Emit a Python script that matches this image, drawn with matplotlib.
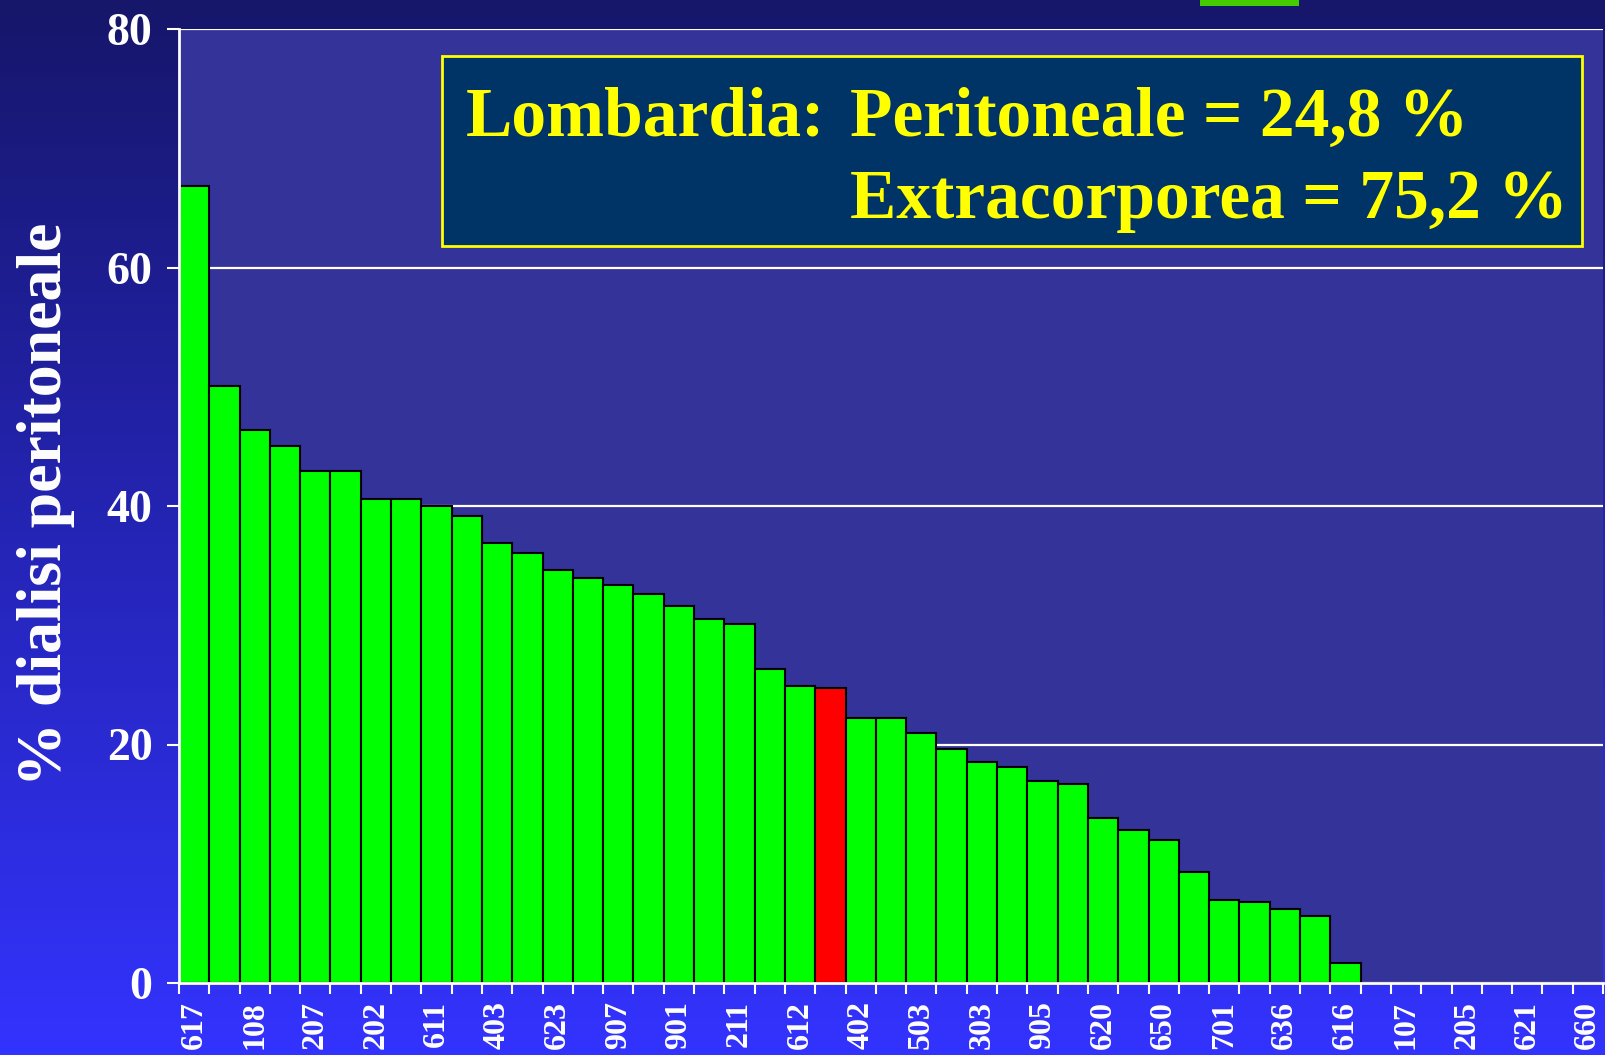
import numpy as np
import matplotlib
matplotlib.use('Agg')
import matplotlib.pyplot as plt
from matplotlib.patches import Rectangle

# sorted centre codes and % peritoneal dialysis per centre
centri = ['617', '', '108', '', '207', '', '202', '', '611', '', '403', '', '623', '',
          '907', '', '901', '', '211', '', '612', '', '402', '', '503', '', '303', '',
          '905', '', '620', '', '650', '', '701', '', '636', '', '616', '', '107', '',
          '205', '', '621', '', '660']
perc_dp = [66.8, 50.1, 46.4, 45.0, 42.9, 42.9, 40.6, 40.6, 40.0, 39.2,
           36.9, 36.1, 34.6, 34.0, 33.4, 32.6, 31.6, 30.5, 30.1, 26.3,
           24.9, 24.7, 22.2, 22.2, 21.0, 19.6, 18.5, 18.1, 16.9, 16.7,
           13.8, 12.8, 12.0, 9.3, 7.0, 6.8, 6.2, 5.6, 1.7,
           0, 0, 0, 0, 0, 0, 0, 0]
idx_lombardia = 21
yticks = [0, 20, 40, 60, 80]

serif = ['Liberation Serif', 'DejaVu Serif']

fig = plt.figure(figsize=(16.05, 10.55), dpi=100)

# gradient background
bg = fig.add_axes([0, 0, 1, 1], zorder=-10)
top = np.array([0x16, 0x16, 0x6a]) / 255
bot = np.array([0x33, 0x33, 0xff]) / 255
t = np.linspace(0, 1, 256)[:, None]
grad = top[None, :] * (1 - t) + bot[None, :] * t
bg.imshow(grad[:, None, :], aspect='auto', extent=[0, 1, 0, 1])
bg.set_axis_off()

ax = fig.add_axes([179 / 1605, 72 / 1055, 1424 / 1605, 954 / 1055])
ax.set_facecolor('#333399')

x = np.arange(len(perc_dp))
colors = ['#00ff00'] * len(perc_dp)
colors[idx_lombardia] = '#ff0000'
ax.bar(x, perc_dp, width=1.0, color=colors, edgecolor='black', linewidth=1.5, zorder=3)

ax.set_xlim(-0.5, len(perc_dp) - 0.5)
ax.set_ylim(0, 80)
ax.set_yticks(yticks)
ax.yaxis.grid(True, color='white', linewidth=1.6, zorder=0)
ax.set_axisbelow(True)

for s in ['top', 'right']:
    ax.spines[s].set_visible(False)
for s in ['left', 'bottom']:
    ax.spines[s].set_color('white')
    ax.spines[s].set_linewidth(2)
    ax.spines[s].set_zorder(5)

ax.set_xticks(x[::2])
ax.set_xticklabels(centri[::2], rotation=90, fontsize=23, fontweight='bold',
                   color='white', family=serif, va='top')
ax.set_xticks(np.arange(len(perc_dp) + 1) - 0.5, minor=True)
ax.tick_params(axis='x', which='major', length=0, pad=13)
ax.tick_params(axis='x', which='minor', length=8, width=1.5, color='white')
ax.tick_params(axis='y', length=9, width=1.5, color='white', pad=10)
for lab in ax.get_yticklabels():
    lab.set_fontsize(33)
    lab.set_fontweight('bold')
    lab.set_color('white')
    lab.set_family(serif)

fig.text(46 / 1605, 1 - 504 / 1055, '% dialisi peritoneale', rotation=90,
         ha='center', va='center', fontsize=46, fontweight='bold',
         color='white', family=serif)

# annotation box
fig.patches.append(Rectangle((442 / 1605, 1 - 246 / 1055), 1140 / 1605, 190 / 1055,
                             transform=fig.transFigure, facecolor='#003366',
                             edgecolor='#ffff00', linewidth=2, zorder=6))
tkw = dict(fontsize=50, fontweight='bold', color='#ffff00', family=serif,
           va='baseline', ha='left', zorder=7)
fig.text(466 / 1605, 1 - 136 / 1055, 'Lombardia:', **tkw)
fig.text(850 / 1605, 1 - 136 / 1055, 'Peritoneale = 24,8 %', **tkw)
fig.text(850 / 1605, 1 - 218 / 1055, 'Extracorporea = 75,2 %', **tkw)

# green patch at top edge
fig.patches.append(Rectangle((1200 / 1605, 1 - 6 / 1055), 99 / 1605, 6 / 1055,
                             transform=fig.transFigure, facecolor='#44cc00',
                             edgecolor='none', zorder=6))

fig.savefig('out.png', dpi=100)
